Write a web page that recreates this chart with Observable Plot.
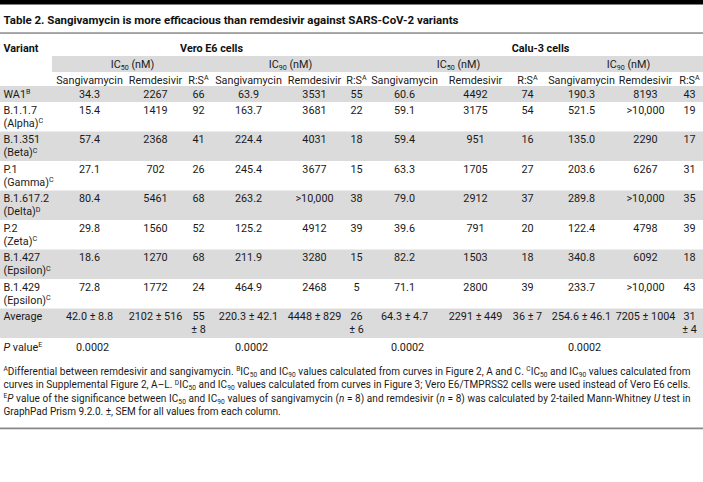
<!DOCTYPE html>
<html><head><meta charset="utf-8">
<script src="https://cdn.jsdelivr.net/npm/d3@7"></script>
<script src="https://cdn.jsdelivr.net/npm/@observablehq/plot@0.6"></script>
<style>
html,body{margin:0;padding:0;background:#fff;}
</style></head><body><div id="chart"></div>
<script>
// ---------- DATA ----------
const title = "Table 2. Sangivamycin is more efficacious than remdesivir against SARS-CoV-2 variants";
const cellLines = ["Vero E6 cells", "Calu-3 cells"];
const icGroups = ["IC_{50} (nM)", "IC_{90} (nM)", "IC_{50} (nM)", "IC_{90} (nM)"];
const subHeads = ["Sangivamycin", "Remdesivir", "R:S^{A}"];
const variants = ["WA1", "B.1.1.7", "B.1.351", "P.1", "B.1.617.2", "P.2", "B.1.427", "B.1.429"];
const variantNames = ["", "Alpha", "Beta", "Gamma", "Delta", "Zeta", "Epsilon", "Epsilon"];
const variantNotes = ["B", "C", "C", "C", "D", "C", "C", "C"];

const veroIC50Sang = ["34.3", "15.4", "57.4", "27.1", "80.4", "29.8", "18.6", "72.8"];
const veroIC50Rem  = ["2267", "1419", "2368", "702", "5461", "1560", "1270", "1772"];
const veroIC50RS   = ["66", "92", "41", "26", "68", "52", "68", "24"];
const veroIC90Sang = ["63.9", "163.7", "224.4", "245.4", "263.2", "125.2", "211.9", "464.9"];
const veroIC90Rem  = ["3531", "3681", "4031", "3677", ">10,000", "4912", "3280", "2468"];
const veroIC90RS   = ["55", "22", "18", "15", "38", "39", "15", "5"];
const caluIC50Sang = ["60.6", "59.1", "59.4", "63.3", "79.0", "39.6", "82.2", "71.1"];
const caluIC50Rem  = ["4492", "3175", "951", "1705", "2912", "791", "1503", "2800"];
const caluIC50RS   = ["74", "54", "16", "27", "37", "20", "18", "39"];
const caluIC90Sang = ["190.3", "521.5", "135.0", "203.6", "289.8", "122.4", "340.8", "233.7"];
const caluIC90Rem  = ["8193", ">10,000", "2290", "6267", ">10,000", "4798", "6092", ">10,000"];
const caluIC90RS   = ["43", "19", "17", "31", "35", "39", "18", "43"];

const averages = ["42.0 ± 8.8", "2102 ± 516", "55\n± 8", "220.3 ± 42.1", "4448 ± 829", "26\n± 6",
                  "64.3 ± 4.7", "2291 ± 449", "36 ± 7", "254.6 ± 46.1", "7205 ± 1004", "31\n± 4"];
const pValues = ["0.0002", "0.0002", "0.0002", "0.0002"];

const footnotes = [
  "^{A}Differential between remdesivir and sangivamycin. ^{B}IC_{50} and IC_{90} values calculated from curves in Figure 2, A and C. ^{C}IC_{50} and IC_{90} values calculated from",
  "curves in Supplemental Figure 2, A–L. ^{D}IC_{50} and IC_{90} values calculated from curves in Figure 3; Vero E6/TMPRSS2 cells were used instead of Vero E6 cells.",
  "^{E}*{P} value of the significance between IC_{50} and IC_{90} values of sangivamycin (*{n} = 8) and remdesivir (*{n} = 8) was calculated by 2-tailed Mann-Whitney *{U} test in",
  "GraphPad Prism 9.2.0. ±, SEM for all values from each column."
];

const columns = [veroIC50Sang, veroIC50Rem, veroIC50RS, veroIC90Sang, veroIC90Rem, veroIC90RS,
                 caluIC50Sang, caluIC50Rem, caluIC50RS, caluIC90Sang, caluIC90Rem, caluIC90RS];

// ---------- LAYOUT ----------
const W = 703, H = 482;
const FONT = "Roboto, 'Open Sans', sans-serif";
const colX = [89, 155, 198, 248, 314, 356, 404, 475, 527, 581, 645, 689];
const groupX = [132, 290, 458, 628];
const cellX = [211, 540];
const leftX = 3;
const yTitle = 20, yHead = 48, yGroup = 64, ySub = 80;
const wa1Top = 86, wa1Bot = 102;
const rowPitch = 29.5, line1 = 8, line2 = 21;
const rowTop = i => i === 0 ? wa1Top : wa1Bot + (i - 1) * rowPitch;
const rowBot = i => i === 0 ? wa1Bot : wa1Bot + i * rowPitch;
const lineY = (i, l) => i === 0 ? (wa1Top + wa1Bot) / 2 : rowTop(i) + (l === 0 ? line1 : line2);
const nRows = variants.length; // average row index = nRows
const yP = rowBot(nRows) + 9;
const footY = [371, 384.5, 398, 411.5];
const BAND = "#dbdbdb";
const titleSize = 11.6, bodySize = 10.8, footSize = 10;
const titleWidth = 455, footWidth = 687;

// ---------- BUILD MARK TABLES ----------
const bands = [{x1: 0, x2: W, y1: 0, y2: 4.5, fill: "#000"},
               {x1: 0, x2: W, y1: 32.3, y2: 33.8, fill: "#8a8a8a"},
               {x1: 52, x2: W, y1: 56, y2: 72, fill: BAND},
               {x1: 0, x2: W, y1: 427.5, y2: 429.3, fill: "#8a8a8a"}];
for (let i = 0; i <= nRows; i += 2) bands.push({x1: 0, x2: W, y1: rowTop(i), y2: rowBot(i), fill: BAND});

const boldLeft = [{x: leftX, y: yTitle, text: title, size: titleSize}, {x: leftX, y: yHead, text: "Variant", size: bodySize}];
const boldMid = cellLines.map((t, k) => ({x: cellX[k], y: yHead, text: t}));
const midText = [];
const leftText = [];
icGroups.forEach((t, k) => midText.push({x: groupX[k], y: yGroup, text: t}));
colX.forEach((x, c) => midText.push({x, y: ySub, text: subHeads[c % 3]}));
variants.forEach((v, i) => {
  if (i === 0) leftText.push({x: leftX, y: lineY(0, 0), text: v + "^{" + variantNotes[i] + "}"});
  else {
    leftText.push({x: leftX, y: lineY(i, 0), text: v});
    leftText.push({x: leftX, y: lineY(i, 1), text: "(" + variantNames[i] + ")^{" + variantNotes[i] + "}"});
  }
  columns.forEach((col, c) => midText.push({x: colX[c], y: lineY(i, 0), text: col[i]}));
});
leftText.push({x: leftX, y: lineY(nRows, 0), text: "Average"});
averages.forEach((a, c) => a.split("\n").forEach((part, l) => midText.push({x: colX[c], y: lineY(nRows, l), text: part})));
leftText.push({x: leftX, y: yP, text: "*{P} value^{E}"});
pValues.forEach((p, k) => midText.push({x: colX[k * 3] + 3, y: yP, text: p}));
const notes = footnotes.map((t, k) => ({x: leftX, y: footY[k], text: t}));

const plot = Plot.plot({
  width: W, height: H, margin: 0,
  x: {type: "identity", axis: null}, y: {type: "identity", axis: null},
  style: {fontFamily: FONT, background: "#fff", color: "#1a1a1a"},
  marks: [
    Plot.rect(bands, {x1: "x1", x2: "x2", y1: "y1", y2: "y2", fill: d => d.fill}),
    Plot.text(boldLeft, {x: "x", y: "y", text: "text", textAnchor: "start", fontWeight: "bold", fontSize: d => d.size, fill: "#111"}),
    Plot.text(boldMid, {x: "x", y: "y", text: "text", textAnchor: "middle", fontWeight: "bold", fontSize: bodySize, fill: "#111"}),
    Plot.text(midText, {x: "x", y: "y", text: "text", textAnchor: "middle", fontSize: bodySize, fill: "#1a1a1a"}),
    Plot.text(leftText, {x: "x", y: "y", text: "text", textAnchor: "start", fontSize: bodySize, fill: "#1a1a1a"}),
    Plot.text(notes, {x: "x", y: "y", text: "text", textAnchor: "start", fontSize: footSize, fill: "#1a1a1a"})
  ]
});
document.getElementById("chart").appendChild(plot);

// ---------- rich text: ^{sup} _{sub} *{italic} ----------
const NS = "http://www.w3.org/2000/svg";
const strip = s => s.replace(/[\^_*]\{([^}]*)\}/g, "$1");
const justified = footnotes.slice(0, 3).map(strip);
d3.select(plot).selectAll("text").each(function () {
  const el = this;
  const s = el.textContent;
  if (s === title) {
    el.setAttribute("textLength", titleWidth);
    el.setAttribute("lengthAdjust", "spacingAndGlyphs");
    return;
  }
  if (!/[\^_*]\{/.test(s)) return;
  if (justified.includes(strip(s))) {
    el.setAttribute("textLength", footWidth);
    el.setAttribute("lengthAdjust", "spacing");
  }
  const size = parseFloat(getComputedStyle(el).fontSize) || 11;
  while (el.firstChild) el.removeChild(el.firstChild);
  let shift = 0;
  const add = (str, kind) => {
    if (!str) return;
    const t = document.createElementNS(NS, "tspan");
    t.textContent = str;
    let target = 0;
    if (kind === "^") { target = -0.36 * size; t.setAttribute("font-size", (0.66 * size).toFixed(2)); }
    else if (kind === "_") { target = 0.2 * size; t.setAttribute("font-size", (0.66 * size).toFixed(2)); }
    else if (kind === "*") { t.setAttribute("font-style", "italic"); }
    const dy = target - shift;
    if (dy) t.setAttribute("dy", dy.toFixed(2));
    shift = target;
    el.appendChild(t);
  };
  const re = /([\^_*])\{([^}]*)\}/g;
  let last = 0, m;
  while ((m = re.exec(s))) { add(s.slice(last, m.index), ""); add(m[2], m[1]); last = re.lastIndex; }
  add(s.slice(last), "");
});
</script></body></html>
